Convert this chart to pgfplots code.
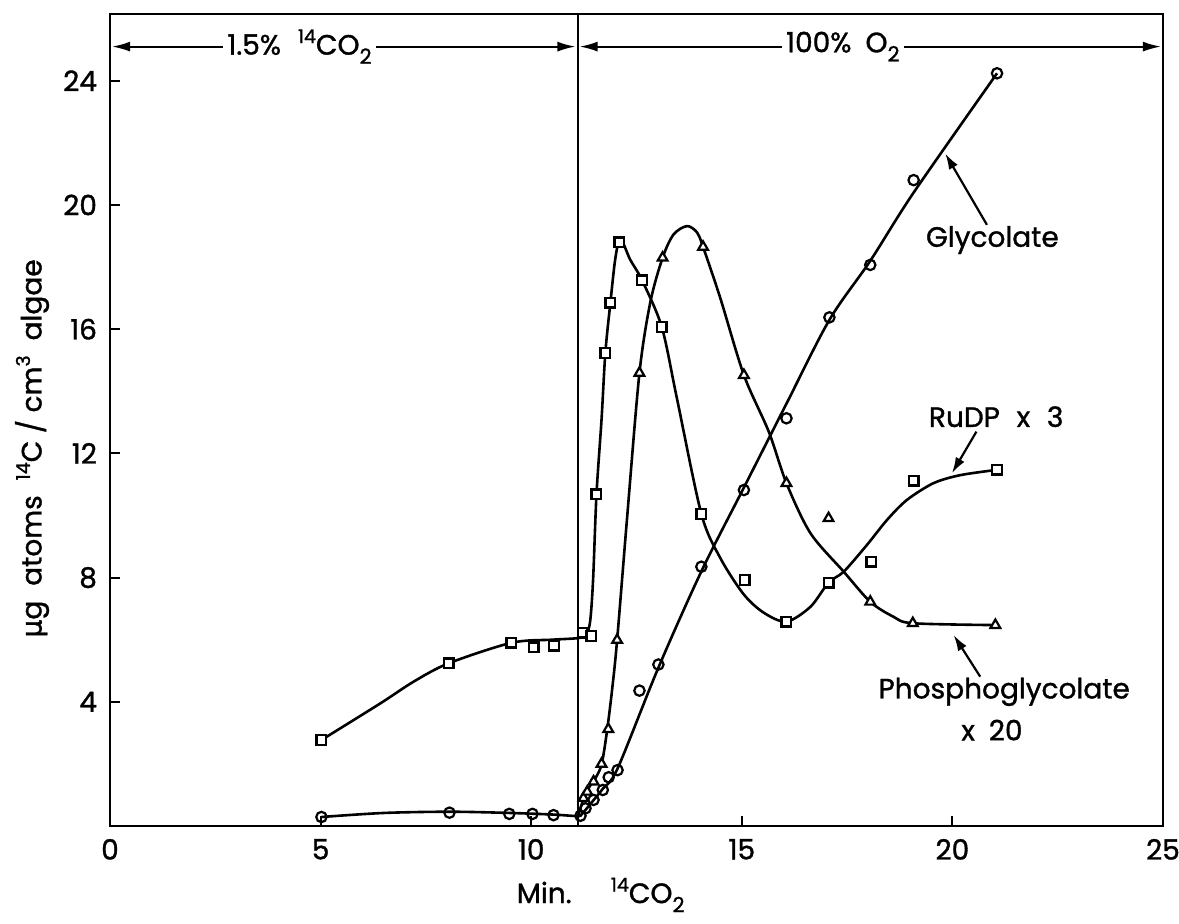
\documentclass[border=0pt]{standalone}
\usepackage{fontspec}
\setmainfont{Poppins}[FakeBold=1.2]
\newfontfamily\dejavu{DejaVu Sans}[FakeBold=1.2]
\usepackage{pgfplots}
\pgfplotsset{compat=1.18}
\usetikzlibrary{arrows.meta}
\newcommand{\sups}[1]{\raisebox{0.75ex}{\fontsize{9.5}{9.5}\selectfont #1}}
\newcommand{\subs}[1]{\raisebox{-0.6ex}{\fontsize{10.5}{10.5}\selectfont #1}}
\begin{document}
\begin{tikzpicture}
\useasboundingbox (-55pt,-48.5pt) rectangle (534.5pt,413pt);
\begin{axis}[
  at={(0,0)}, anchor=south west,
  scale only axis, width=526.5pt, height=406pt,
  xmin=0, xmax=25, ymin=0, ymax=26.15,
  xtick={0,5,10,15,20,25}, ytick={4,8,12,16,20,24},
  tick pos=left, tick align=inside, major tick length=5pt,
  axis line style={line width=1.3pt}, tick style={line width=1pt, black},
  /pgf/number format/assume math mode=true,
  ticklabel style={font=\fontsize{14}{16}\selectfont},
  xticklabel style={yshift=-3pt},
  yticklabel style={xshift=-3pt},
  xlabel={Min.\hspace{1.4em}\sups{14}CO\subs{2}},
  xlabel style={font=\fontsize{14}{16}\selectfont, at={(axis description cs:0.466,-0.085)}, anchor=center},
  ylabel={{\dejavu µ}g\ \ atoms\ \ \sups{14}C / cm\sups{3}\ \ algae},
  ylabel style={font=\fontsize{14}{16}\selectfont, at={(axis description cs:-0.074,0.465)}, anchor=center},
  clip=false,
]
% vertical separator
\draw[line width=1pt] (axis cs:11.1,0) -- (axis cs:11.1,26.15);
% top arrows
\draw[line width=0.9pt,{Latex[length=9pt,width=5pt]}-{Latex[length=9pt,width=5pt]}] (axis cs:0.05,25.1) -- (axis cs:11.05,25.1);
\draw[line width=0.9pt,{Latex[length=9pt,width=5pt]}-{Latex[length=9pt,width=5pt]}] (axis cs:11.15,25.1) -- (axis cs:24.95,25.1);
\node[fill=white, inner sep=2pt, font=\fontsize{14}{16}\selectfont] at (axis cs:4.5,25.1) {1.5\%\hspace{0.6em}\sups{14}CO\subs{2}};
\node[fill=white, inner sep=2pt, font=\fontsize{14}{16}\selectfont] at (axis cs:17.4,25.1) {100\%\hspace{0.5em}O\subs{2}};

% curves
\addplot[black, line width=1.3pt, smooth, no marks] coordinates {
(5.02,0.29) (6.5,0.42) (8.06,0.46) (9.5,0.42) (10.5,0.37) (11.1,0.32)
(11.2,0.38) (11.4,0.7) (11.7,1.2) (12.05,1.85) (13.02,5.1) (14.04,8.2)
(15.05,10.9) (16.06,13.6) (17.08,16.3) (18.05,18.2) (19.08,20.4) (21.06,24.24)};
\addplot[black, line width=1.3pt, smooth, no marks] coordinates {
(5.02,2.77) (6.42,3.95) (7.21,4.65) (8.04,5.24) (9.53,5.9) (10.5,6.0) (11.1,6.05)
(11.3,6.15) (11.4,6.6) (11.47,7.95) (11.55,10.68) (11.67,13.09) (11.76,15.23)
(11.88,16.85) (12.0,18.3) (12.12,18.9) (12.35,18.24) (12.63,17.58) (13.1,16.07)
(13.46,13.77) (14.04,10.05) (14.49,8.63) (15.04,7.47) (15.52,6.87) (16.06,6.58)
(16.63,7.06) (17.06,7.84) (17.42,8.19) (17.97,9.05) (18.45,9.86) (18.92,10.5)
(19.55,11.04) (20.19,11.3) (21.06,11.47)};
\addplot[black, line width=1.3pt, smooth, no marks] coordinates {
(11.12,0.35) (11.25,0.9) (11.4,1.3) (11.55,1.6) (11.68,2.03) (11.81,3.16)
(11.93,4.5) (12.04,5.99) (12.28,9.98) (12.57,14.59) (12.83,16.88) (13.12,18.3)
(13.38,19.05) (13.7,19.32) (13.94,19.11) (14.08,18.65) (14.49,17.0) (15.05,14.52)
(15.64,12.7) (16.06,11.04) (16.63,9.43) (17.42,8.19) (18.05,7.22) (18.6,6.74)
(19.06,6.53) (21.02,6.47)};

% markers
\addplot[only marks, mark=o, mark size=2.6pt, mark options={fill=white, line width=1.1pt}] coordinates {
(5.02,0.29) (8.06,0.43) (9.48,0.39) (10.03,0.39) (10.53,0.35) (11.17,0.33)
(11.29,0.57) (11.48,0.84) (11.7,1.16) (11.84,1.57) (12.05,1.8) (12.57,4.36)
(13.02,5.2) (14.04,8.35) (15.05,10.82) (16.06,13.13) (17.08,16.38) (18.05,18.07)
(19.08,20.8) (21.06,24.24)};
\addplot[only marks, mark=square*, mark size=2.4pt, mark options={fill=white, line width=1.2pt}] coordinates {
(5.02,2.77) (8.04,5.24) (9.53,5.9) (10.06,5.75) (10.54,5.81) (11.22,6.22)
(11.43,6.12) (11.55,10.68) (11.76,15.23) (11.88,16.85) (12.09,18.8) (12.63,17.58)
(13.1,16.07) (14.04,10.05) (15.07,7.92) (16.06,6.58) (17.06,7.84) (18.07,8.51)
(19.08,11.12) (21.06,11.47)};
\addplot[only marks, mark=triangle*, mark size=2.8pt, mark options={fill=white, line width=1.1pt}] coordinates {
(11.24,0.9) (11.33,1.1) (11.48,1.43) (11.67,2.0) (11.83,3.12) (12.04,5.99)
(12.57,14.59) (13.12,18.3) (14.08,18.65) (15.05,14.52) (16.06,11.04) (17.06,9.91)
(18.05,7.22) (19.06,6.53) (21.02,6.47)};

% annotations
\node[font=\fontsize{14}{16}\selectfont] at (axis cs:20.95,18.87) {Glycolate};
\draw[line width=1.1pt,-{Latex[length=8pt,width=5pt]}] (axis cs:20.82,19.36) -- (axis cs:19.83,21.66);
\node[font=\fontsize{14}{16}\selectfont] at (axis cs:21.04,13.18) {RuDP\hspace{0.6em}x\hspace{0.6em}3};
\draw[line width=1.1pt,-{Latex[length=8pt,width=5pt]}] (axis cs:20.57,12.7) -- (axis cs:19.99,11.36);
\node[font=\fontsize{14}{16}\selectfont] at (axis cs:21.23,4.32) {Phosphoglycolate};
\node[font=\fontsize{14}{16}\selectfont] at (axis cs:20.94,3.09) {x\hspace{0.5em}20};
\draw[line width=1.1pt,-{Latex[length=8pt,width=5pt]}] (axis cs:20.66,4.81) -- (axis cs:20.03,6.15);
\end{axis}
\end{tikzpicture}
\end{document}
